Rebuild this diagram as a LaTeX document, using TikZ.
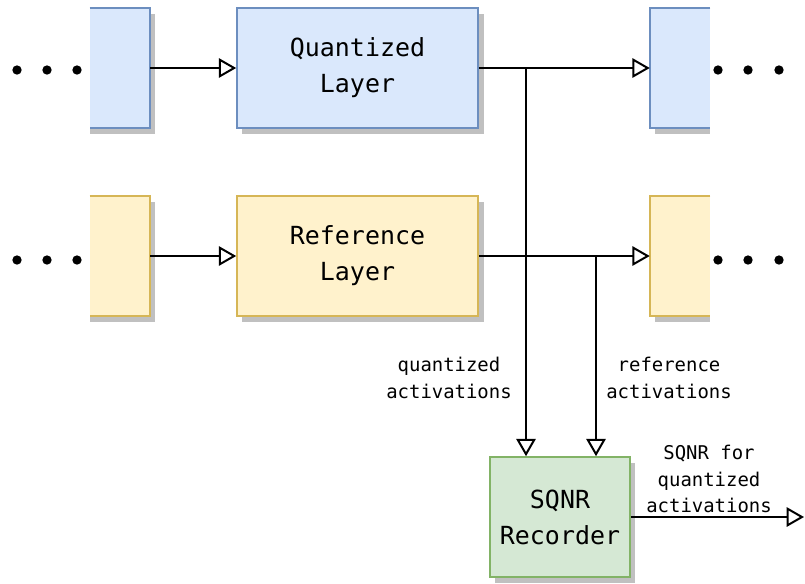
\documentclass[tikz,border=0pt]{standalone}
\usepackage{fontspec}
\setmainfont{DejaVu Sans Mono}
\usetikzlibrary{arrows.meta}
\definecolor{qfill}{HTML}{DAE8FC}\definecolor{qline}{HTML}{6C8EBF}
\definecolor{rfill}{HTML}{FFF2CC}\definecolor{rline}{HTML}{D6B656}
\definecolor{gfill}{HTML}{D5E8D4}\definecolor{gline}{HTML}{82B366}
\definecolor{shadowgray}{HTML}{C0C0C0}
\tikzset{
  layerbox/.style={draw, line width=1.2pt, minimum width=180.75pt, minimum height=90pt,
    inner sep=0pt, align=center, font=\fontsize{18.7}{27}\selectfont},
  stub/.style={inner sep=0pt, minimum width=45pt, minimum height=90pt},
  border/.style={line width=1.2pt},
  arr/.style={line width=1.5pt, -{Triangle[open, length=13pt, width=14.5pt, line width=1.5pt]}},
  dot/.style={circle, fill=black, inner sep=0pt, minimum size=7pt},
  lbl/.style={align=center, inner sep=0pt, font=\fontsize{14.2}{20}\selectfont},
  boxshadow/.style={fill=shadowgray},
}
\begin{document}
\begin{tikzpicture}[x=0.75pt, y=-0.75pt]
\useasboundingbox (0,0) rectangle (805,583);

% drop shadows
\path[boxshadow] (90,14) rectangle (155,134);
\path[boxshadow] (242,14) rectangle (484,134);
\path[boxshadow] (655,14) rectangle (710,134);
\path[boxshadow] (90,202) rectangle (155,322);
\path[boxshadow] (242,202) rectangle (484,322);
\path[boxshadow] (655,202) rectangle (710,322);
\path[boxshadow] (495,463) rectangle (635,583);

% layer stubs cut by the picture edge
\node[stub, fill=qfill] (lq) at (120,68) {};
\node[stub, fill=qfill] (rq) at (680,68) {};
\node[stub, fill=rfill] (lr) at (120,256) {};
\node[stub, fill=rfill] (rr) at (680,256) {};
\draw[border, qline] (lq.north west) -- (lq.north east) -- (lq.south east) -- (lq.south west);
\draw[border, qline] (rq.north east) -- (rq.north west) -- (rq.south west) -- (rq.south east);
\draw[border, rline] (lr.north west) -- (lr.north east) -- (lr.south east) -- (lr.south west);
\draw[border, rline] (rr.north east) -- (rr.north west) -- (rr.south west) -- (rr.south east);

% main blocks
\node[layerbox, fill=qfill, draw=qline] (q) at (357.5,68) {Quantized\\Layer};
\node[layerbox, fill=rfill, draw=rline] (r) at (357.5,256) {Reference\\Layer};
\node[layerbox, fill=gfill, draw=gline, minimum width=105pt] (rec) at (560,517) {SQNR\\Recorder};

% continuation dots
\node[dot] (d1) at (17,70) {};
\node[dot] (d2) at (47,70) {};
\node[dot] (d3) at (77,70) {};
\node[dot] (d4) at (17,260) {};
\node[dot] (d5) at (47,260) {};
\node[dot] (d6) at (77,260) {};
\node[dot] (d7) at (718,70) {};
\node[dot] (d8) at (748,70) {};
\node[dot] (d9) at (779,70) {};
\node[dot] (d10) at (718,260) {};
\node[dot] (d11) at (748,260) {};
\node[dot] (d12) at (779,260) {};

% data flow
\coordinate (tq) at (526,68);
\coordinate (tr) at (596,256);
\coordinate (out) at (804,517);
\draw[arr] (lq.east) -- (q.west);
\draw[arr] (lr.east) -- (r.west);
\draw[arr] (q.east) -- (rq.west);
\draw[arr] (r.east) -- (rr.west);
\draw[arr] (tq) -- (tq |- rec.north);
\draw[arr] (tr) -- (tr |- rec.north);
\draw[arr] (rec.east) -- (out);

% labels
\node[lbl] (lq1) at (449,378) {quantized\\activations};
\node[lbl] (lr1) at (669,378) {reference\\activations};
\node[lbl] (ls1) at (709,479) {SQNR for\\quantized\\activations};
\end{tikzpicture}
\end{document}
